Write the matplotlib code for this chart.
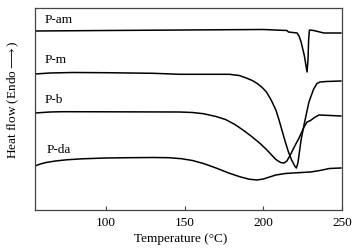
import matplotlib
matplotlib.use("Agg")
import matplotlib.pyplot as plt

# DSC traces (temperature in C, heat flow in arbitrary offset units)
t_am = [55, 100, 150, 200, 215, 216, 221.5, 222.7, 224, 226, 227.8, 228.4, 228.8, 229.3, 232, 238.5, 249.3]
hf_am = [179, 179.5, 180, 180.5, 179.5, 178, 177, 174, 168, 155, 138, 150, 170, 180, 179.5, 177, 177]

t_m = [55, 64.5, 79, 100, 130, 146.8, 178.4, 184.7, 189.2, 193, 196.1, 199, 202, 205, 208, 210,
       212, 214, 216, 218, 220, 221, 222, 224, 226, 229, 232, 234.1, 236, 240, 249.3]
hf_m = [136, 137, 137.5, 137.3, 136.7, 135.7, 135.7, 134.5, 132, 129.5, 126.5, 123, 118, 110, 100, 90,
        79, 68, 58, 50, 44, 42, 47, 70, 86, 108, 121, 126.5, 128, 128.5, 129]

t_b = [55, 64.5, 72.7, 100, 146.8, 155, 162, 170, 176, 182, 188, 193, 198, 202, 205, 208, 211, 213.2,
       215, 217.5, 220, 222.7, 225.9, 227.8, 230, 232.5, 235.4, 240, 249.3]
hf_b = [97, 98, 98.3, 98.2, 98, 97.5, 96.3, 93.5, 90.5, 85.5, 79, 73, 66.5, 60.5, 55.5, 50.5, 47.5, 47,
        49, 56, 64, 72, 83, 88, 89.5, 92.5, 95, 94.7, 94]

t_da = [55, 58, 62, 68, 75, 85, 100, 115, 130, 140, 148, 155, 162, 170, 178, 185, 191, 196, 200,
        204, 208, 214, 222, 230, 236, 242, 249.3]
hf_da = [44, 45.8, 47.5, 49, 50.2, 51.2, 52, 52.3, 52.5, 52.3, 51.3, 49.5, 46.5, 42, 37, 33.3, 30.8, 30, 31,
         33, 35, 36.5, 37.3, 38, 39.5, 41.5, 42]

labels = ["P-am", "P-m", "P-b", "P-da"]
label_pos = [(61.3, 190), (61.3, 150), (61.3, 110), (62.6, 60)]

plt.rcParams['font.family'] = ['Liberation Serif', 'DejaVu Serif']
plt.rcParams['mathtext.fontset'] = 'stix'

fig = plt.figure(figsize=(3.6, 2.49), dpi=100)
ax = fig.add_axes([35 / 360, 39 / 249, 307 / 360, 202 / 249])

for t, hf in [(t_am, hf_am), (t_m, hf_m), (t_b, hf_b), (t_da, hf_da)]:
    ax.plot(t, hf, color='black', lw=1.1, solid_joinstyle='round')

for lab, (x, y) in zip(labels, label_pos):
    ax.text(x, y, lab, fontsize=9.5, ha='left', va='center')

ax.set_xlim(55, 250)
ax.set_ylim(0, 202)
ax.set_xticks([100, 150, 200, 250])
ax.set_yticks([])
ax.tick_params(axis='x', direction='in', length=3, width=0.8, labelsize=9.5, pad=5, color='#444444')
for s in ax.spines.values():
    s.set_color('#444444')
    s.set_linewidth(0.9)

ax.set_xlabel("Temperature (°C)", fontsize=9.5, labelpad=3)
ax.xaxis.set_label_coords(0.476, -0.115)
ax.set_ylabel("Heat flow (Endo$\\longrightarrow$)", fontsize=9.5)
ax.yaxis.set_label_coords(-0.045, 0.545)

fig.savefig("out.png", dpi=100)
